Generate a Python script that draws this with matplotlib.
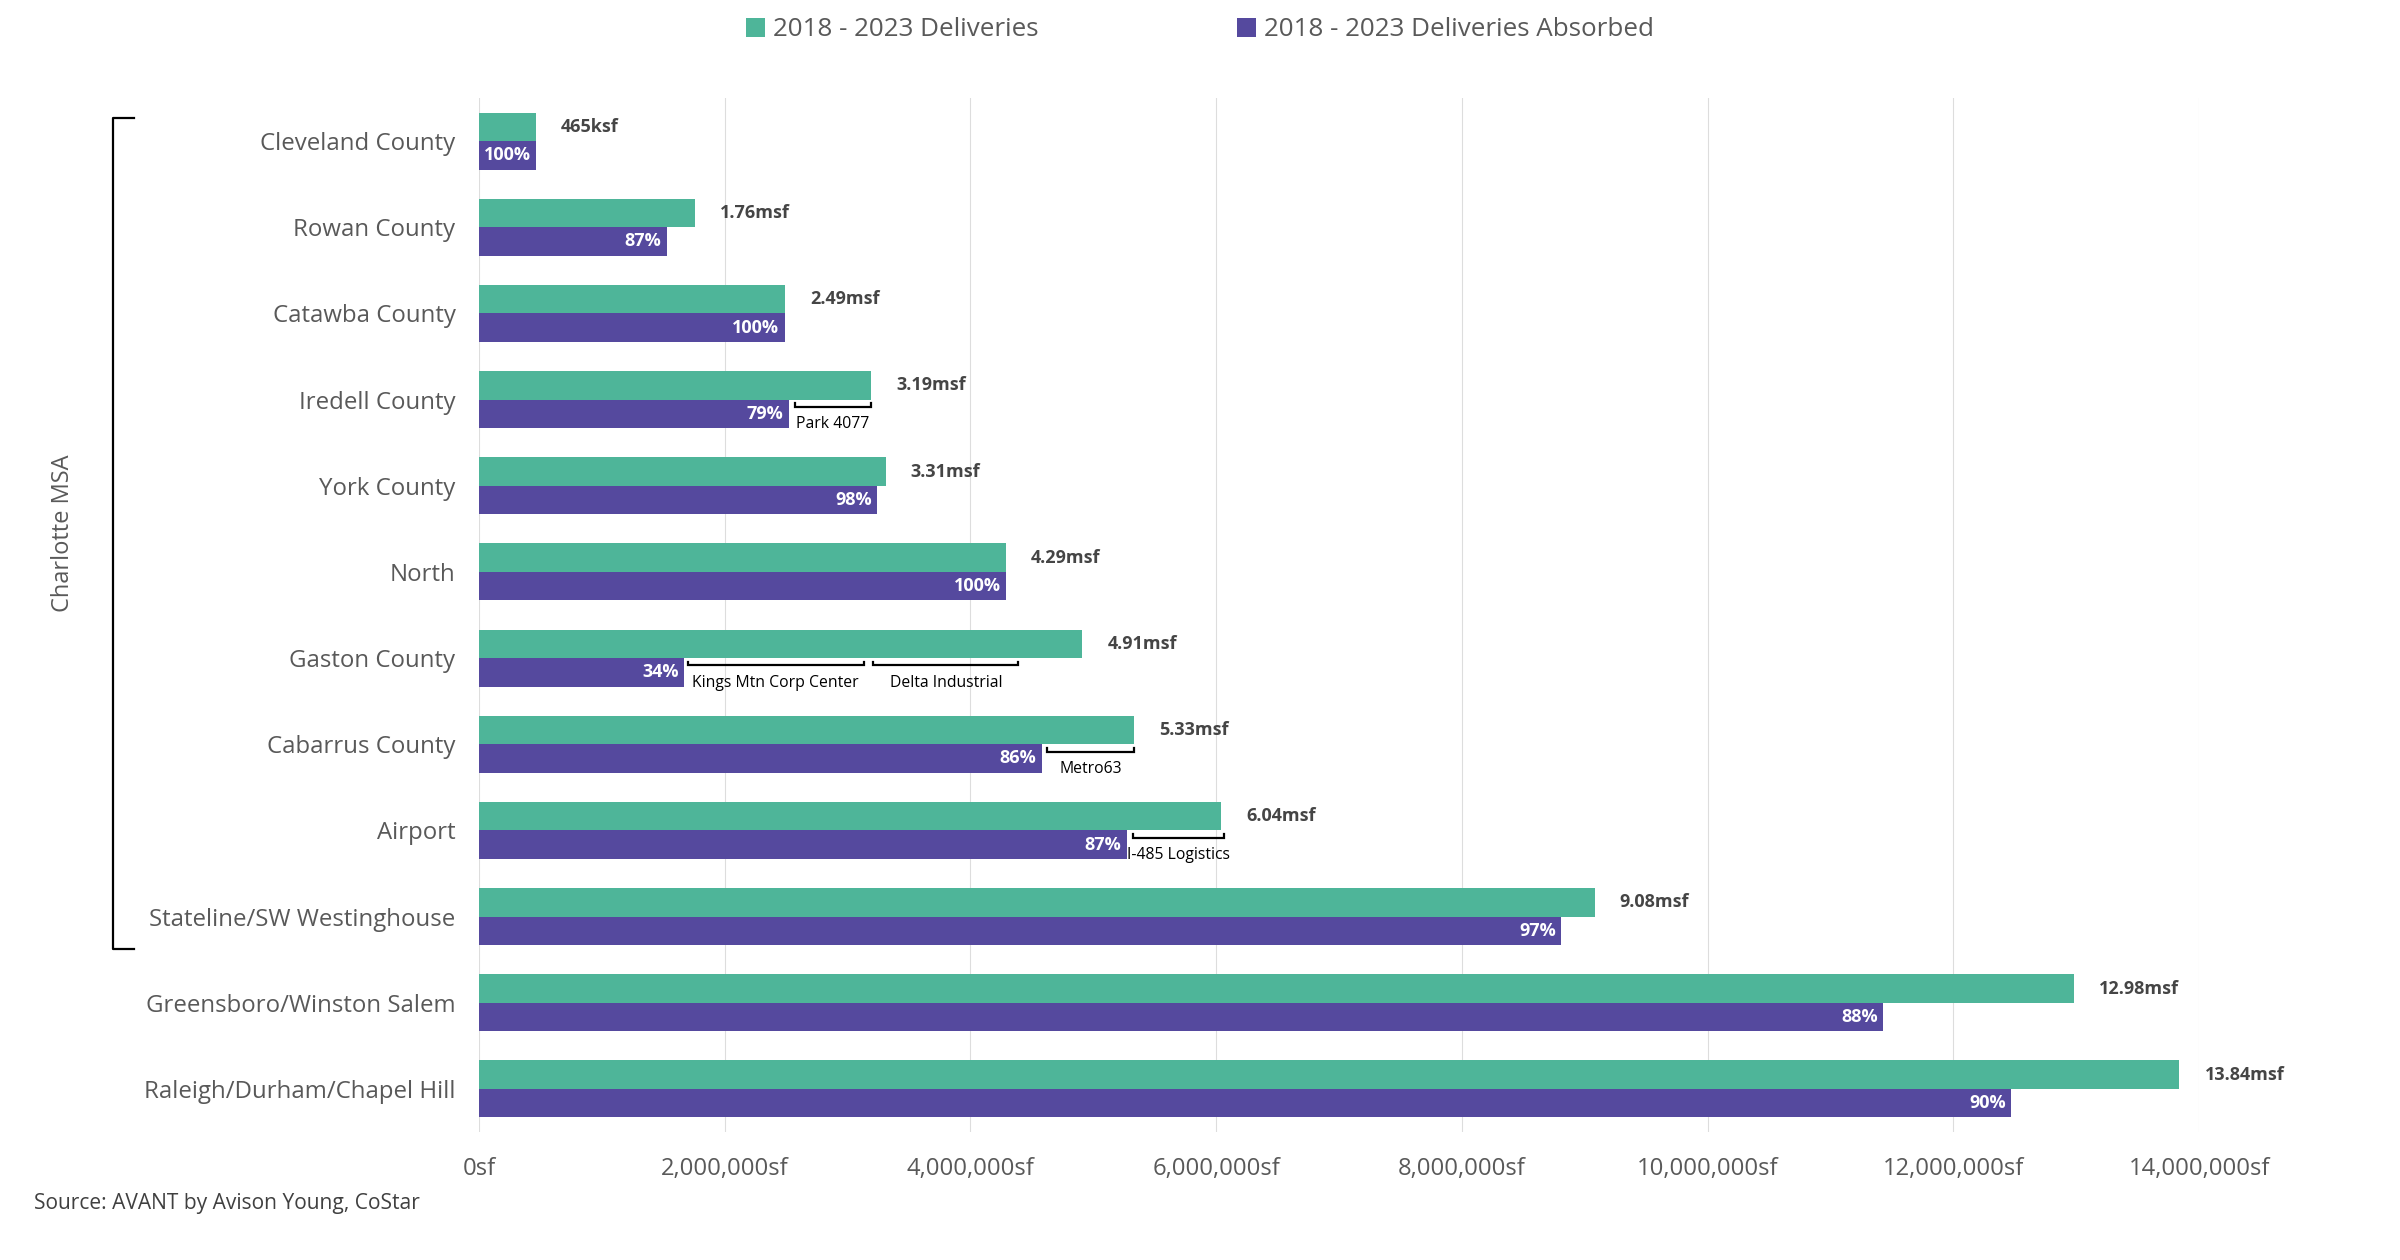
import numpy as np
import matplotlib
matplotlib.use('Agg')
import matplotlib.pyplot as plt
from matplotlib.ticker import FuncFormatter
from matplotlib.transforms import blended_transform_factory

plt.rcParams['font.family'] = ['Open Sans', 'DejaVu Sans']

# データ
categories = ['Cleveland County', 'Rowan County', 'Catawba County', 'Iredell County',
              'York County', 'North', 'Gaston County', 'Cabarrus County', 'Airport',
              'Stateline/SW Westinghouse', 'Greensboro/Winston Salem',
              'Raleigh/Durham/Chapel Hill']
deliveries = [465000, 1760000, 2490000, 3190000, 3310000, 4290000,
              4910000, 5330000, 6040000, 9080000, 12980000, 13840000]
absorbed = [465000, 1530000, 2490000, 2520000, 3240000, 4290000,
            1670000, 4580000, 5270000, 8810000, 11430000, 12470000]
delivery_labels = ['465ksf', '1.76msf', '2.49msf', '3.19msf', '3.31msf', '4.29msf',
                   '4.91msf', '5.33msf', '6.04msf', '9.08msf', '12.98msf', '13.84msf']
absorbed_pct = ['100%', '87%', '100%', '79%', '98%', '100%',
                '34%', '86%', '87%', '97%', '88%', '90%']

# プロジェクトの括弧
project_names = ['Park 4077', 'Kings Mtn Corp Center', 'Delta Industrial', 'Metro63', 'I-485 Logistics']
project_rows = [3, 6, 6, 7, 8]
project_start = [2570000, 1700000, 3210000, 4620000, 5320000]
project_end = [3190000, 3130000, 4390000, 5330000, 6060000]

green = '#4EB599'
purple = '#55499E'
gray = '#595959'

fig = plt.figure(figsize=(24, 12.6), dpi=100)
ax = fig.add_axes([0.1996, 0.1016, 0.7167, 0.8206])

y = np.arange(len(categories))
h = 0.33
b1 = ax.barh(y - h / 2, deliveries, height=h, color=green, label='2018 - 2023 Deliveries')
b2 = ax.barh(y + h / 2, absorbed, height=h, color=purple, label='2018 - 2023 Deliveries Absorbed')

ax.set_ylim(11.5, -0.5)
ax.set_xlim(0, 14e6)
ax.set_xticks(np.arange(0, 14e6 + 1, 2e6))
ax.xaxis.set_major_formatter(FuncFormatter(lambda v, p: f'{v:,.0f}sf'))
ax.set_yticks(y)
ax.set_yticklabels(categories)
ax.grid(axis='x', color='#DDDDDD', lw=0.8)
ax.set_axisbelow(True)
for s in ax.spines.values():
    s.set_visible(False)
ax.tick_params(axis='both', length=0)
ax.tick_params(axis='y', pad=17, labelsize=17.3, labelcolor=gray)
ax.tick_params(axis='x', pad=18, labelsize=17.1, labelcolor=gray)

for i in range(len(categories)):
    ax.annotate(delivery_labels[i], (deliveries[i], i - h / 2), xytext=(18, 0),
                textcoords='offset points', ha='left', va='center',
                fontsize=13, fontweight='bold', color='#454545')
    ax.annotate(absorbed_pct[i], (absorbed[i], i + h / 2), xytext=(-4, 0),
                textcoords='offset points', ha='right', va='center',
                fontsize=13, fontweight='bold', color='white')

for name, row, x0, x1 in zip(project_names, project_rows, project_start, project_end):
    yl = row + 0.085
    yt = row + 0.045
    ax.plot([x0, x0, x1, x1], [yt, yl, yl, yt], color='black', lw=1.6,
            solid_joinstyle='miter', clip_on=False)
    ax.text((x0 + x1) / 2, row + 0.285, name, ha='center', va='center',
            fontsize=11.3, color='black')

# Charlotte MSA の括弧
trans = blended_transform_factory(fig.transFigure, ax.transData)
xl = 112.7 / 2400
xt = 134 / 2400
ax.plot([xt, xl, xl, xt], [-0.264, -0.264, 9.372, 9.372], transform=trans,
        clip_on=False, color='black', lw=1.6)
ax.text(63 / 2400, 4.55, 'Charlotte MSA', transform=trans, rotation=90,
        ha='center', va='center', fontsize=17, color=gray)

leg = fig.legend(handles=[b1, b2], loc='center', bbox_to_anchor=(0.5, 1 - 30 / 1260),
                 ncol=2, frameon=False, fontsize=18.7, handlelength=0.72, handleheight=0.72,
                 handletextpad=0.3, columnspacing=7.65)
for t in leg.get_texts():
    t.set_color(gray)

fig.text(34 / 2400, 1 - 1203 / 1260, 'Source: AVANT by Avison Young, CoStar',
         fontsize=15.1, va='center', color='#404040')

fig.savefig('out.png', dpi=100)
